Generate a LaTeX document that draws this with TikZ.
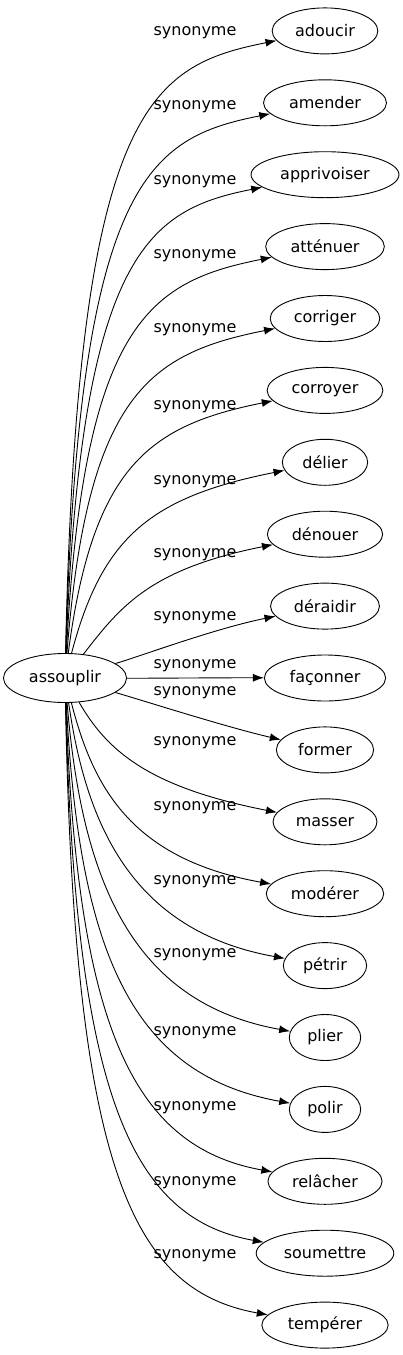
\documentclass[tikz,border=0pt]{standalone}
\usepackage{fontspec}
\setmainfont{DejaVu Sans}
\usetikzlibrary{arrows.meta,shapes.geometric,positioning}
\tikzset{>={Latex[length=11pt,width=8pt]}}

\begin{document}
\begin{tikzpicture}[x=1pt,y=-1pt,
	mot/.style={ellipse, draw=black, line width=0.9pt, inner xsep=7.5pt, inner ysep=2pt, minimum height=46pt, font=\fontsize{16}{19}\selectfont},
	lien/.style={->, line width=0.9pt},
	etiq/.style={inner sep=0pt, font=\fontsize{16}{19}\selectfont}]
	\useasboundingbox (0,0) rectangle (403,1355);
	\node[mot, minimum height=49pt] (assouplir) at (65,678) {assouplir};

	\foreach \nm/\txt/\ly [count=\i from 0] in {adoucir/adoucir/33, amender/amender/107, apprivoiser/apprivoiser/182,
		attenuer/atténuer/256, corriger/corriger/330, corroyer/corroyer/407, delier/délier/482, denouer/dénouer/555,
		deraidir/déraidir/618, faconner/façonner/666, former/former/693, masser/masser/743, moderer/modérer/808,
		petrir/pétrir/882, plier/plier/955, polir/polir/1033, relacher/relâcher/1108, soumettre/soumettre/1183,
		temperer/tempérer/1256}{
		\pgfmathsetmacro{\yt}{678-71.9*(9-\i)}
		\pgfmathsetmacro{\ecart}{678-\yt}
		\pgfmathsetmacro{\eabs}{max(abs(\ecart),1)}
		\pgfmathsetmacro{\cxa}{min(75, ifthenelse(\ecart>0, 8000, 6000)/\eabs)}
		\pgfmathsetmacro{\cya}{ifthenelse(\ecart>0, -1, 1)*max(\eabs-ifthenelse(\ecart>0, 75, 160), ifthenelse(\eabs<100, 0.3, 0.5)*\eabs)}
		\pgfmathsetmacro{\cxb}{-min(ifthenelse(\ecart>0, 175, 195), max(90, ifthenelse(\ecart>0, 40+1.0*\eabs, 20+1.1*\eabs)))}
		\pgfmathsetmacro{\cyb}{ifthenelse(\ecart>0, 35, -35)*min(1, \eabs/110)}
		\node[mot] (\nm) at (325,\yt) {\txt};
		\node[etiq] (lbl\i) at (195,\ly) {synonyme};
		\draw[lien] (assouplir) .. controls +(\cxa,\cya) and +(\cxb,\cyb) .. (\nm);
	}
\end{tikzpicture}
\end{document}
